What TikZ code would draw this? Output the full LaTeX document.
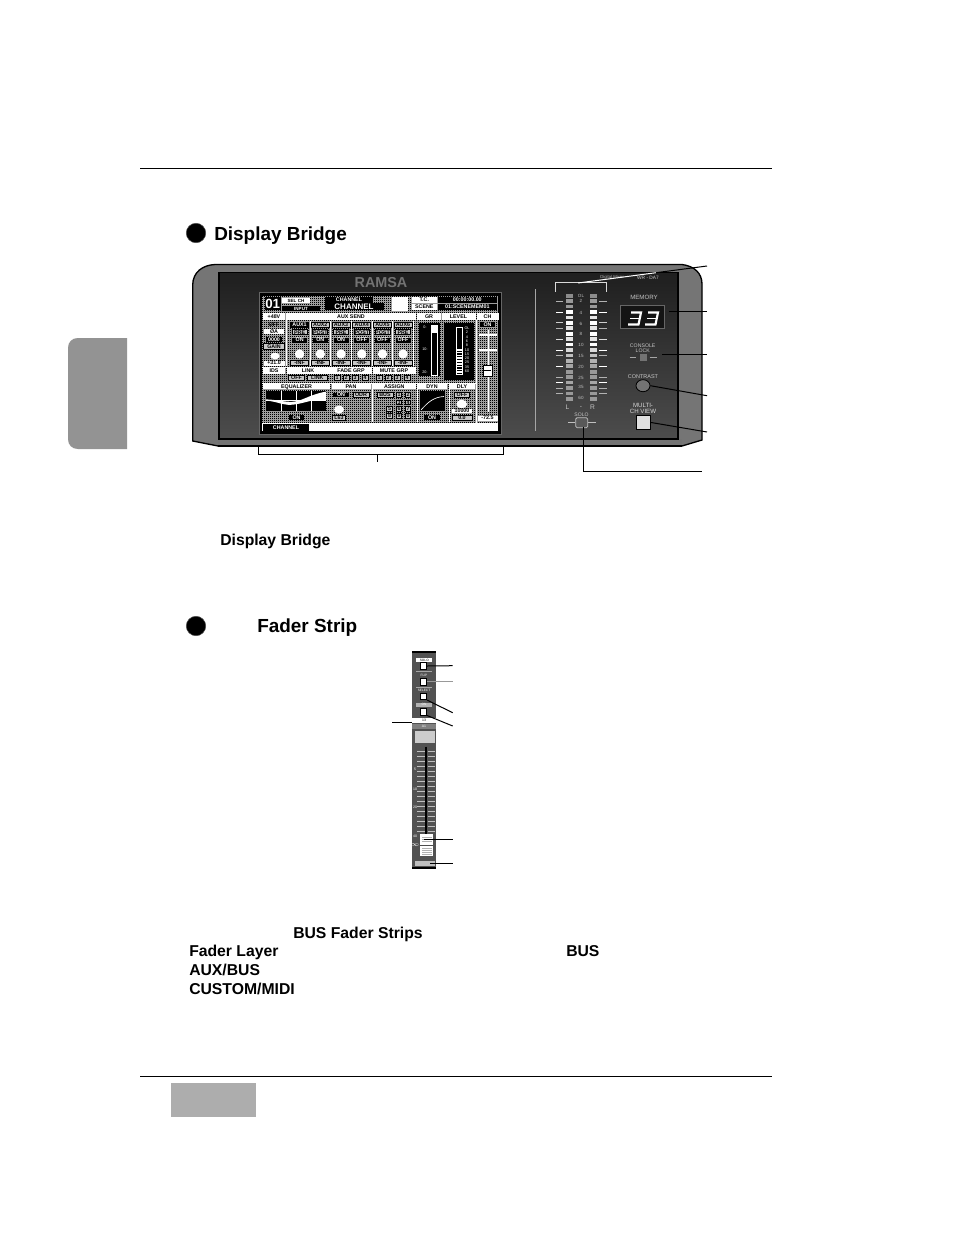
\documentclass[tikz,border=0pt]{standalone}
\usepackage{fontspec}
\setmainfont{Liberation Sans}
\usetikzlibrary{positioning, patterns, arrows.meta, shapes.geometric}

\pgfdeclarepatternformonly{scrdots}{\pgfqpoint{-.2pt}{-.2pt}}{\pgfqpoint{1.7pt}{1.7pt}}{\pgfqpoint{1.5pt}{1.5pt}}{%
	\pgfpathrectangle{\pgfqpoint{0pt}{0pt}}{\pgfqpoint{.95pt}{.95pt}}\pgfusepath{fill}}

\newcommand{\scrtiny}{\fontsize{4}{4}\selectfont\bfseries}
\newcommand{\panelfont}{\fontsize{5}{5.4}\selectfont}

% one box of the screen: style, centre x, centre y, width, height, text
\newcommand{\scrbox}[6]{\node[#1, name=b#2-#3, minimum width=#4*.75pt, minimum height=#5*.75pt] at (#2,#3) {#6};}

\tikzset{
	scrwhite/.style={fill=white, text=black, inner sep=0pt, font=\scrtiny, text height=2.8pt, text depth=0pt},
	scrblack/.style={fill=black, text=white, inner sep=0pt, font=\scrtiny, text height=2.8pt, text depth=0pt},
	scrframe/.style={fill=black!22, draw=black, line width=.5pt, text=black, inner sep=0pt, font=\scrtiny, text height=2.8pt, text depth=0pt},
	scrnote/.style={text=black, inner sep=0pt, font=\scrtiny, text height=2.8pt, text depth=0pt},
	heading/.style={font=\fontsize{14.2}{14.2}\selectfont\bfseries, anchor=base west, inner sep=0pt},
	boldtext/.style={font=\fontsize{11.8}{11.8}\selectfont\bfseries, anchor=base west, inner sep=0pt},
	paneltext/.style={text=gray!45, inner sep=0pt, font=\panelfont, align=center},
	leader/.style={line width=.75pt, draw=black},
	stripbtn/.style={fill=white, draw=black, line width=.7pt, minimum width=5pt, minimum height=5pt, inner sep=0pt},
	striplabel/.style={inner sep=0pt, minimum width=12pt, minimum height=3pt, font=\fontsize{2.4}{2.4}\selectfont, text=black},
}

\begin{document}
\begin{tikzpicture}[x=.75pt, y=-.75pt]
	\fill[white] (0,0) rectangle (954,1235);
	\useasboundingbox (0,0) rectangle (954,1235);

	% page furniture
	\draw[black, line width=.7pt] (140,168) -- (772,168);
	\draw[black, line width=.7pt] (140,1076) -- (772,1076);
	\fill[gray!85] (127,338) -- (78,338) .. controls (72,338) and (68,342) .. (68,348) -- (68,439) .. controls (68,445) and (72,449) .. (78,449) -- (127,449) -- cycle;
	\fill[black!32] (171,1083) rectangle (256,1117);
	\node[circle, fill=black, draw=black!70, minimum size=14.6pt, inner sep=0pt] (dotA) at (196,233) {};
	\node[circle, fill=black, draw=black!70, minimum size=14.6pt, inner sep=0pt] (dotB) at (196,626) {};
	\node[heading] (titleA) at (214,240) {Display Bridge};
	\node[heading] (titleB) at (257,632) {Fader Strip};
	\node[boldtext] (capA) at (220,545) {Display Bridge};
	\node[boldtext] (txtA) at (293,938) {BUS Fader Strips};
	\node[boldtext] (txtB) at (189,956) {Fader Layer};
	\node[boldtext] (txtC) at (566,956) {BUS};
	\node[boldtext] (txtD) at (189,975) {AUX/BUS};
	\node[boldtext] (txtE) at (189,994) {CUSTOM/MIDI};

	% bridge body
	\draw[fill=black!54, line width=1pt] (218,446) -- (192.7,441) -- (192.7,285) .. controls (192.7,272) and (203,265) .. (215,264.5)
		-- (682,264.5) .. controls (694,266) and (702,273) .. (702,284) -- (702,440) -- (682,446) -- cycle;
	\fill[black!55] (218,439) rectangle (682,446);
	\draw[line width=.8pt] (218,446) -- (682,446);
	\shade[top color=black!88, bottom color=black!70, draw=black, line width=1.2pt] (219,272.5) rectangle (678,439);
	\node[text=black!55, font=\fontsize{10.8}{10.8}\selectfont\bfseries, inner sep=0pt] (logo) at (381,283) {RAMSA};

	% screen
	\fill[black] (259,292.7) rectangle (501.7,434);
	\draw[black!60, line width=.6pt] (259,292.7) rectangle (501.7,434);
	\fill[white] (262,296) rectangle (498,431);
	\fill[black!38] (262,296) rectangle (498,423);
	\fill[pattern=scrdots, pattern color=black] (262,296) rectangle (498,423);
	% top line
	\scrbox{scrblack, text height=7pt}{272.7}{303.5}{16}{13.5}{\fontsize{10}{10}\selectfont 01}
	\scrbox{scrwhite}{296}{300.2}{28}{4.6}{\fontsize{3.4}{3.4}\selectfont SEL CH}
	\scrbox{scrblack}{301}{308.2}{38}{4.6}{\fontsize{3.4}{3.4}\selectfont INPUT}
	\scrbox{scrblack}{349}{300}{48}{5.5}{CHANNEL}
	\scrbox{scrblack, text height=4.3pt}{354}{306.5}{59}{6.5}{\fontsize{6}{6}\selectfont CHANNEL}
	\fill[white] (391.7,296.7) rectangle (407.7,311);
	\scrbox{scrwhite}{424.3}{300}{25}{5.6}{T.C.}
	\scrbox{scrblack}{467.3}{300}{59}{5.6}{00:00:00.00}
	\scrbox{scrwhite}{424.3}{307}{25}{5.6}{SCENE}
	\scrbox{scrblack}{467.3}{307}{59}{5.6}{01:SCENEMEM01}
	% heading bars
	\foreach \cx/\w/\t in {274/22/+48V, 351/130/AUX SEND, 429/24/GR, 458.5/34/LEVEL, 487.5/22/CH}
		\scrbox{scrwhite}{\cx}{316.6}{\w}{6.4}{\t}
	\foreach \cx/\w/\t in {274/22/IDS, 308/43/LINK, 351/42/FADE GRP, 394/43/MUTE GRP}
		\scrbox{scrwhite}{\cx}{370.5}{\w}{6}{\t}
	\foreach \cx/\w/\t in {296.5/67/EQUALIZER, 351/39/PAN/BAL, 394.3/43/ASSIGN, 432/30/DYN, 462/26/DLY}
		\scrbox{scrwhite}{\cx}{386.6}{\w}{5.4}{\t}
	% dividers
	\draw[white, line width=.7pt] (286,320) -- (286,366) (476,320) -- (476,423)
		(372,384) -- (372,422) (417,384) -- (417,422) (449,384) -- (449,422)
		(262,367) -- (416,367) (262,383) -- (476,383);
	% input column
	\scrbox{scrnote}{274}{324.3}{20}{5}{OFF}
	\scrbox{scrwhite}{274}{331.7}{20}{5.5}{ØA}
	\scrbox{scrblack}{274}{339.2}{16}{5}{0000}
	\scrbox{scrframe}{274}{346.7}{21}{6}{GAIN}
	\node[ellipse, fill=white, minimum width=7pt, minimum height=5pt, inner sep=0pt] (gain) at (275,356) {};
	\scrbox{scrwhite}{274}{363}{21}{5}{+31.0}
	% aux send columns
	\foreach \cx/\n/\p/\o [count=\i] in {299.6/AUX1/PRE/ON, 320.3/AUX2/POST/ON, 341/AUX3/PRE/ON, 361.8/AUX4/POST/OFF, 382.5/AUX5/POST/OFF, 403/AUX6/PRE/OFF}{
		\draw[white, line width=.6pt] (\cx+10.3,321) -- (\cx+10.3,366);
		\scrbox{scrframe}{\cx}{324.8}{18}{5.6}{\n}
		\scrbox{scrframe}{\cx}{332.2}{15}{5}{\p}
		\scrbox{scrblack}{\cx}{340}{15}{5}{\o}
		\node[circle, fill=white, minimum size=7pt, inner sep=0pt] (auxknob\i) at (\cx,354) {};
		\scrbox{scrframe}{\cx}{362.5}{18}{5}{-INF}
	}
	\scrbox{scrblack}{299.6}{324.8}{18}{5.6}{AUX1}
	% gain reduction and level
	\fill[black] (419,322.7) rectangle (440,376);
	\draw[white, line width=.6pt] (431,325) rectangle (437.3,375);
	\fill[white] (431,325) rectangle (437.3,332.5);
	\foreach \ty/\t in {327/0-, 349/10-, 372/20-}
		\node[text=white, font=\fontsize{2.8}{2.8}\selectfont, inner sep=0pt] (gr\ty) at (425,\ty) {\t};
	\fill[black] (444,322.7) rectangle (474,380);
	\draw[white, line width=.6pt] (456,327) rectangle (462.7,374);
	\foreach \i in {0,...,8}
		\fill[white] (457,349+\i*2.8) rectangle (461.7,350.6+\i*2.8);
	\foreach \t [count=\i] in {OL,2,4,6,8,10,15,20,25,35,60}
		\node[text=white, font=\fontsize{2.8}{2.8}\selectfont, inner sep=0pt] (lv\i) at (467,324+\i*4.3) {\t};
	% channel fader
	\scrbox{scrblack}{487.5}{324.2}{15}{5}{ON}
	\draw[white, line width=.8pt] (488.3,330) -- (488.3,412) (479,335) -- (497,335) (479,350) -- (497,350);
	\node[fill=white, draw=black, line width=.4pt, minimum width=6.5pt, minimum height=8pt, inner sep=0pt] (chcap) at (487.5,370.5) {};
	\draw[black, line width=.5pt] (484,370.5) -- (491,370.5);
	\scrbox{scrwhite}{487.5}{418}{20}{5}{-72.5}
	% link, groups
	\scrbox{scrframe}{296.5}{377.8}{15.5}{5.5}{OFF}
	\scrbox{scrframe}{317.3}{377.8}{20}{5.5}{LINK}
	\foreach \cx/\t in {337/1,346/2,355/3,365/4}
		\scrbox{scrframe}{\cx}{377.8}{6}{5.5}{\t}
	\foreach \cx/\t in {379/1,388/2,397/3,407/4}
		\scrbox{scrframe}{\cx}{377.8}{6}{5.5}{\t}
	% equalizer
	\fill[black] (266,390.7) rectangle (326,411);
	\fill[white] (266,399.4) .. controls (276,399.6) and (284,402) .. (292,401.8) .. controls (302,401.5) and (308,395) .. (326,391.6)
		-- (326,400.5) -- (312,400.5) .. controls (302,403) and (296,405) .. (288,404.8) .. controls (282,404.5) and (274,401) .. (266,400.6) -- cycle;
	\draw[white, line width=.5pt] (281,390.7) -- (281,411) (296,390.7) -- (296,411) (311,390.7) -- (311,411) (266,400) -- (326,400);
	\scrbox{scrblack}{296.5}{417.5}{15}{5}{ON}
	% pan
	\scrbox{scrblack}{341}{395}{15.5}{4.6}{ON}
	\scrbox{scrframe}{361}{395}{16}{4.6}{ODR}
	\node[ellipse, fill=white, minimum width=7.5pt, minimum height=6pt, inner sep=0pt] (panknob) at (339,409.5) {};
	\scrbox{scrframe}{339}{417.5}{13}{5}{L63}
	% assign
	\scrbox{scrframe}{385}{395}{16}{4.6}{BUS}
	\foreach \cx/\cy/\t in {399/395/1, 408/395/2, 399/402.4/3, 408/402.4/4, 389.5/409/5, 399/409/6, 408/409/7, 389.5/416/8, 399/416/9, 408/416/0}
		\scrbox{scrframe}{\cx}{\cy}{5.5}{4.6}{\t}
	% dyn
	\fill[black] (420,390.7) rectangle (445,411);
	\draw[white, line width=.5pt] (421,410) .. controls (428,402) and (434,397) .. (444,396.5);
	\scrbox{scrblack}{432}{417.5}{15.5}{5}{ON}
	% dly
	\scrbox{scrframe}{462}{395}{14.5}{4.6}{OFF}
	\node[ellipse, fill=white, minimum width=8pt, minimum height=6.5pt, inner sep=0pt] (dlyknob) at (461.7,404) {};
	\scrbox{scrwhite}{462}{411}{20}{4}{10000}
	\scrbox{scrframe}{462}{417.5}{20}{4.8}{0.0}
	% footer
	\scrbox{scrblack}{286}{427.3}{46}{7.6}{CHANNEL}

	% meter bridge
	\draw[white!65!black, line width=.6pt] (535.3,289) -- (535.3,430.7);
	\draw[white!85!black, line width=.8pt] (555.7,291.7) |- (606.7,282.7) -- (606.7,291.7);
	\foreach \c [count=\i from 0] in {black!45,black!40,black!40,white,white!90!black,white,white!90!black,white,white!90!black,white,white!85!black,white!75!black,white!70!black,black!35,black!40,black!40,black!35,black!40,black!40,black!40}{
		\pgfmathsetmacro\my{295.7+5.43*\i}
		\fill[\c] (566,\my-1.8) rectangle (572.7,\my+1.8);
		\fill[\c] (590,\my-1.8) rectangle (596.7,\my+1.8);
	}
	\foreach \r/\c in {1/black!30,3/white,5/black!20,6/black!30,8/black!15,10/white,11/black!30,13/white,15/black!30,16/white,17/black!30,18/black!30}{
		\pgfmathsetmacro\my{295.7+5.43*\r}
		\draw[\c, line width=.7pt] (556,\my) -- (563.3,\my) (599,\my) -- (606.7,\my);
	}
	\foreach \ty/\t [count=\i] in {295.5/OL, 301/2, 312.5/4, 323.5/6, 334/8, 345/10, 355.5/15, 366.5/20, 377.5/25, 387/35, 397.5/60}
		\node[text=black!25, font=\fontsize{3.4}{3.4}\selectfont, inner sep=0pt] (scale\i) at (581,\ty) {\t};
	\node[paneltext] (mL) at (567.5,407) {L};
	\node[paneltext] (mdash) at (581,407) {-};
	\node[paneltext] (mR) at (592.5,407) {R};
	\node[paneltext, font=\fontsize{3.8}{3.8}\selectfont] (solotxt) at (581.5,414.5) {SOLO};
	\node[draw=black!25, fill=black!65, rounded corners=1pt, line width=.6pt, minimum width=9pt, minimum height=7.5pt, inner sep=0pt] (solobtn) at (581.7,422.7) {};
	\draw[black!25, line width=.6pt] (568.3,422.7) -- (solobtn.west) (solobtn.east) -- (595.7,422.7);

	% right hand controls
	\node[paneltext, font=\fontsize{3.2}{3.2}\selectfont, text=black!30] (maker) at (612,277.7) {Digital Mixer};
	\node[paneltext, font=\fontsize{3.6}{3.6}\selectfont, text=black!20] (model) at (648,277.7) {WR - DA7};
	\node[paneltext, font=\fontsize{4.6}{4.6}\selectfont] (memtxt) at (644,297) {MEMORY};
	\node[fill=black!92, draw=black!60, line width=.4pt, minimum width=33pt, minimum height=17.5pt, inner sep=0pt] (memdisp) at (642,316.7) {};
	\foreach \dx in {0,17}{
		\draw[white, line width=1.6pt] (628+\dx+3,312.5) -- (628+\dx+13,312.5) -- (628+\dx+10.5,324.5) -- (628+\dx,324.5);
		\draw[white, line width=1.4pt] (628+\dx+2,318.5) -- (628+\dx+11,318.5);
	}
	\node[paneltext, font=\fontsize{3.9}{4.2}\selectfont] (locktxt) at (642.7,348.3) {CONSOLE\\LOCK};
	\node[fill=black!55, minimum width=5pt, minimum height=5pt, inner sep=0pt] (lockled) at (643.3,357.3) {};
	\draw[black!35, line width=.8pt] (629.5,357.3) -- (636,357.3) (649.5,357.3) -- (656.7,357.3);
	\node[paneltext, font=\fontsize{4.1}{4.1}\selectfont] (contxt) at (643,376.7) {CONTRAST};
	\node[ellipse, fill=black!55, draw=black, line width=.6pt, minimum width=10.5pt, minimum height=9pt, inner sep=0pt] (conknob) at (643,385.7) {};
	\node[paneltext, font=\fontsize{4.6}{5}\selectfont, text=black!15] (multitxt) at (643,408.3) {MULTI-\\CH VIEW};
	\node[fill=black!12, draw=black, line width=.6pt, minimum width=10.5pt, minimum height=10pt, inner sep=0pt] (multibtn) at (643.7,422.5) {};

	% bracket under the screen
	\coordinate (brL) at (258,446);
	\coordinate (brR) at (503.6,446);
	\coordinate (brM) at (377,454.3);
	\coordinate (brEnd) at (377,462);
	\draw[leader] (brL) |- (brM) -| (brR);
	\draw[leader] (brM) -- (brEnd);

	% leaders of the bridge
	\coordinate (ldBar) at (578,283);
	\coordinate (ldEdge) at (656,272.7);
	\coordinate (ldOne) at (707,266);
	\coordinate (ldMem) at (707,311.7);
	\coordinate (ldLock) at (707,354);
	\coordinate (ldLockIn) at (662,354);
	\coordinate (ldMemIn) at (669,311.7);
	\coordinate (ldCon) at (707,395.7);
	\coordinate (ldMul) at (707,432);
	\coordinate (ldSoloIn) at (583.3,426.5);
	\coordinate (ldSolo) at (702,471);
	\draw[white, line width=.75pt] (ldBar) -- (ldEdge);
	\draw[leader] (ldEdge) -- (ldOne);
	\draw[leader] (ldMemIn) -- (ldMem);
	\draw[leader] (ldLockIn) -- (ldLock);
	\draw[leader] (conknob.east) -- (ldCon);
	\draw[leader] (multibtn.east) -- (ldMul);
	\draw[leader] (ldSoloIn) |- (ldSolo);

	% fader strip
	\fill[black!68] (412,652) rectangle (436,869);
	\draw[black, line width=.8pt] (412,652) -- (436,652);
	\fill[black] (412,867) rectangle (436,869);
	\node[striplabel, fill=white] (sololb) at (424.3,660.3) {SOLO};
	\node[stripbtn] (solosw) at (423.3,666) {};
	\draw[black!35, line width=.4pt] (416,671.7) -- (432,671.7);
	\node[striplabel, text=white] (fliplb) at (424,675) {FLIP};
	\node[stripbtn] (flipsw) at (423.3,681.7) {};
	\draw[black!35, line width=.4pt] (416,687.7) -- (432,687.7);
	\node[striplabel, text=white] (sellb) at (424,690.7) {SELECT};
	\node[stripbtn] (selsw) at (423.3,696.3) {};
	\node[striplabel, fill=black!30, text=white] (onlb) at (424,704.5) {ON};
	\node[stripbtn] (onsw) at (423.3,711.7) {};
	\fill[white] (412,717.7) rectangle (436,723.3);
	\node[inner sep=0pt, font=\fontsize{2.6}{2.6}\selectfont] (busno) at (424,720.5) {13};
	\fill[black!50] (412,724) rectangle (436,728.5);
	\node[inner sep=0pt, text=white, font=\fontsize{2.6}{2.6}\selectfont] (busas) at (424,726.2) {A1};
	\fill[black!20] (414.7,731) rectangle (435.3,743.3);
	% fader scale
	\foreach \r in {0,...,16}{
		\pgfmathsetmacro\ty{751+\r*5}
		\draw[black!25, line width=.5pt] (417,\ty) -- (424.5,\ty) (427.5,\ty) -- (435,\ty);
	}
	\foreach \ty/\t [count=\i] in {769/5, 789/10, 807/20, 836/40, 845/$\infty$}
		\node[text=white, font=\fontsize{2.6}{2.6}\selectfont, inner sep=0pt] (scl\i) at (415,\ty) {\t};
	\draw[black, line width=1.3pt] (426,746.7) -- (426,834);
	% fader knob
	\node[fill=white, minimum width=10pt, minimum height=16.5pt, inner sep=0pt] (knob) at (426.7,845) {};
	\fill[black!70] (420,844.6) rectangle (433.4,845.8);
	\foreach \ty in {837,839.3,841.5,848,850,852,854}
		\draw[black!30, line width=.4pt] (422,\ty) -- (432,\ty);
	\node[fill=black!25, minimum width=15pt, minimum height=4pt, inner sep=0pt] (stripend) at (425,863.5) {};

	% leaders of the strip
	\coordinate (fsSolo) at (452.7,665.7);
	\coordinate (fsFlip) at (452.7,681.7);
	\coordinate (fsSel) at (452.7,712.7);
	\coordinate (fsOn) at (452.7,726);
	\coordinate (fsBus) at (392,722);
	\coordinate (fsBusIn) at (412,722);
	\coordinate (fsKnob) at (452.7,839.3);
	\coordinate (fsKnobIn) at (424,839.3);
	\coordinate (fsEnd) at (452.7,863.3);
	\coordinate (fsEndIn) at (430,863.3);
	\draw[leader] (solosw.east) -- (fsSolo);
	\draw[leader, draw=black!40] (flipsw.east) -- (fsFlip);
	\draw[leader] (selsw.south east) -- (fsSel);
	\draw[leader] (onsw.south east) -- (fsOn);
	\draw[leader] (fsBus) -- (fsBusIn);
	\draw[leader] (fsKnobIn) -- (fsKnob);
	\draw[leader] (fsEndIn) -- (fsEnd);
\end{tikzpicture}
\end{document}
